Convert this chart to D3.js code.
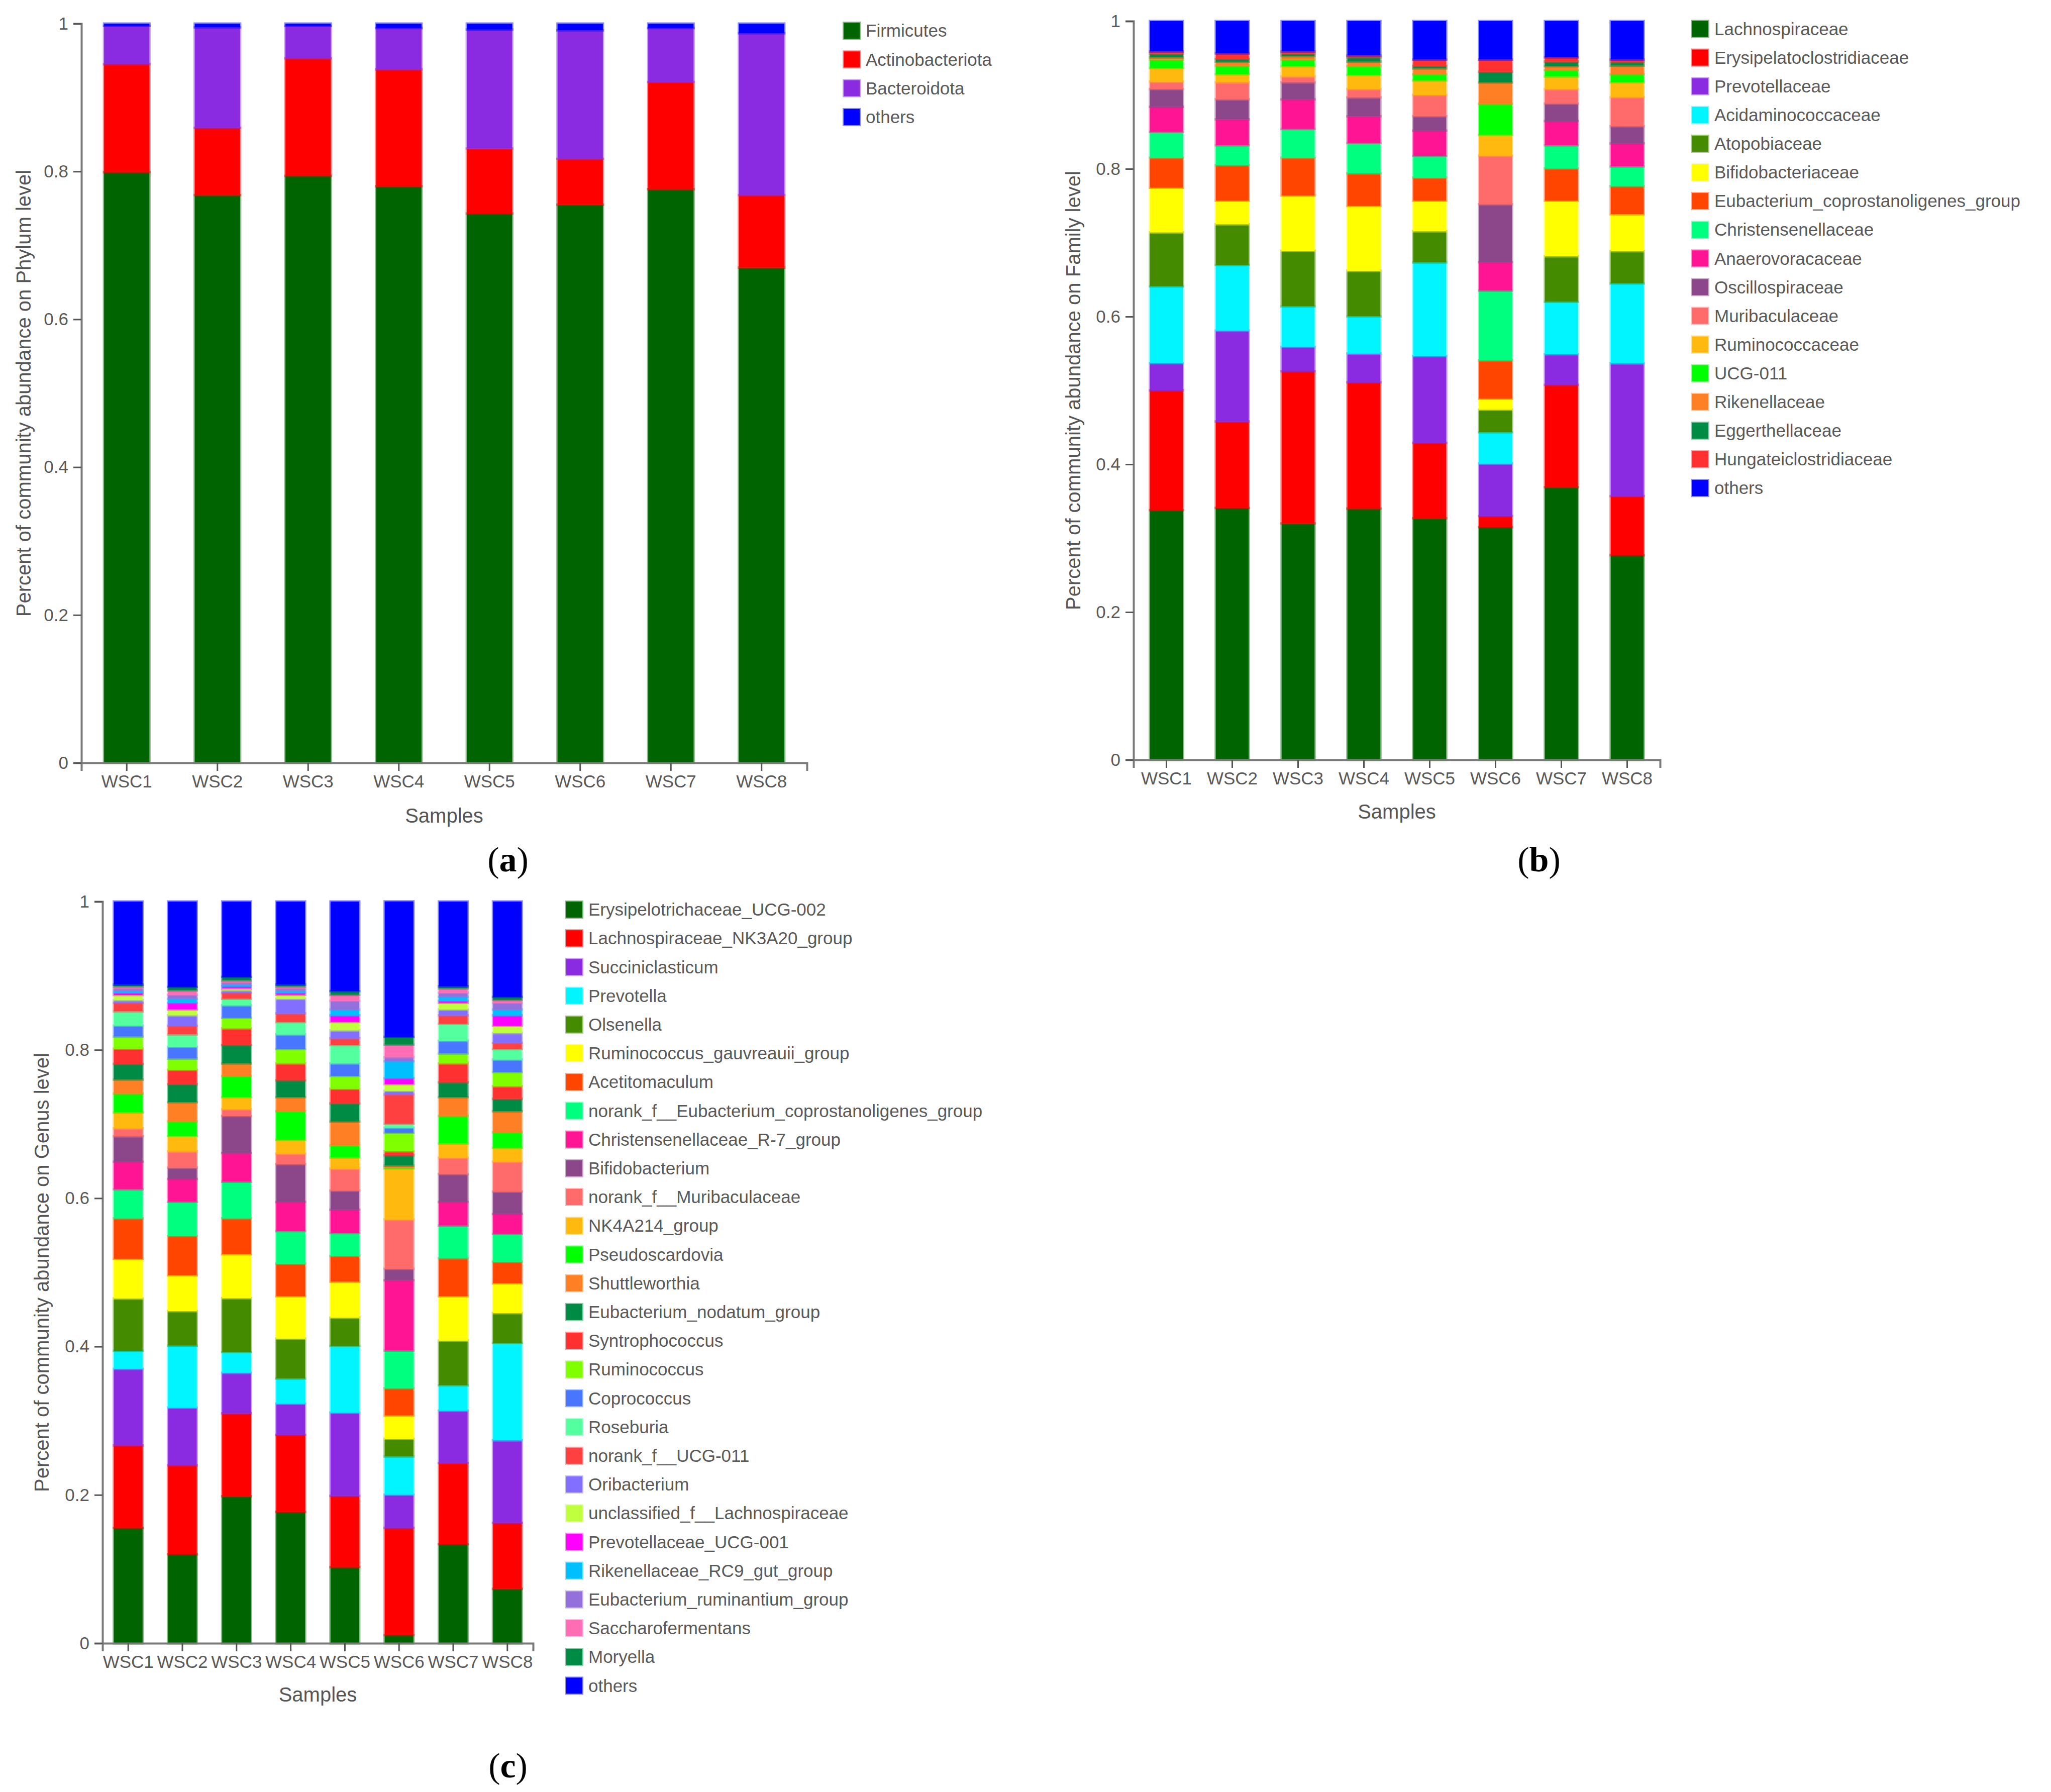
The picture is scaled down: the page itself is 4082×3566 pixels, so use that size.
<!DOCTYPE html>
<html>
<head>
<meta charset="utf-8">
<script src="https://cdn.jsdelivr.net/npm/d3@7"></script>
<style>
body{margin:0;background:#fff}
text{font-family:"Liberation Sans",Arial,sans-serif}
</style>
</head>
<body>
<script>
var samples=["WSC1","WSC2","WSC3","WSC4","WSC5","WSC6","WSC7","WSC8"]
var yTicks=[0,0.2,0.4,0.6,0.8,1]

// (a) phylum level
var phylumNames=["Firmicutes","Actinobacteriota","Bacteroidota","others"]
var firmicutes=[0.799,0.768,0.794,0.780,0.743,0.755,0.776,0.670]
var actinobacteriota=[0.146,0.091,0.159,0.158,0.088,0.062,0.145,0.098]
var bacteroidota=[0.052,0.136,0.044,0.056,0.161,0.174,0.073,0.219]
var phylumOthers=[0.003,0.005,0.003,0.006,0.008,0.009,0.006,0.013]
var phylumValues=[firmicutes,actinobacteriota,bacteroidota,phylumOthers]

// (b) family level
var familyNames=["Lachnospiraceae","Erysipelatoclostridiaceae","Prevotellaceae","Acidaminococcaceae","Atopobiaceae",
  "Bifidobacteriaceae","Eubacterium_coprostanoligenes_group","Christensenellaceae","Anaerovoracaceae","Oscillospiraceae",
  "Muribaculaceae","Ruminococcaceae","UCG-011","Rikenellaceae","Eggerthellaceae","Hungateiclostridiaceae","others"]
var lachnospiraceae=[0.338,0.341,0.320,0.340,0.327,0.315,0.369,0.277]
var erysipelatoclostridiaceae=[0.162,0.117,0.206,0.171,0.102,0.015,0.1385,0.080]
var prevotellaceae=[0.037,0.123,0.033,0.039,0.1175,0.071,0.0415,0.1797]
var acidaminococcaceae=[0.104,0.089,0.055,0.0505,0.1269,0.0425,0.0712,0.1083]
var atopobiaceae=[0.073,0.055,0.075,0.0615,0.0421,0.0305,0.0614,0.0435]
var bifidobacteriaceae=[0.0605,0.032,0.075,0.0878,0.0415,0.015,0.0754,0.0501]
var eubCoproFamily=[0.0405,0.048,0.051,0.0441,0.031,0.0517,0.0435,0.038]
var christensenellaceae=[0.035,0.027,0.039,0.0411,0.0296,0.0946,0.0315,0.0267]
var anaerovoracaceae=[0.034,0.035,0.040,0.036,0.034,0.0383,0.0327,0.0313]
var oscillospiraceae=[0.024,0.027,0.023,0.0256,0.0197,0.0784,0.0236,0.0231]
var muribaculaceae=[0.010,0.023,0.008,0.0114,0.0287,0.0656,0.0197,0.0393]
var ruminococcaceae=[0.0186,0.011,0.014,0.019,0.0197,0.0284,0.017,0.0202]
var ucg011=[0.0114,0.0117,0.009,0.012,0.0083,0.042,0.0086,0.0107]
var rikenellaceae=[0.003,0.0053,0.0045,0.0062,0.008,0.029,0.0054,0.0119]
var eggerthellaceae=[0.005,0.0036,0.0035,0.0058,0.0033,0.0144,0.0062,0.0045]
var hungateiclostridiaceae=[0.003,0.0077,0.003,0.0026,0.0087,0.0166,0.0058,0.0037]
var familyOthers=[0.041,0.0437,0.041,0.0464,0.052,0.052,0.049,0.052]
var familyValues=[lachnospiraceae,erysipelatoclostridiaceae,prevotellaceae,acidaminococcaceae,atopobiaceae,
  bifidobacteriaceae,eubCoproFamily,christensenellaceae,anaerovoracaceae,oscillospiraceae,muribaculaceae,
  ruminococcaceae,ucg011,rikenellaceae,eggerthellaceae,hungateiclostridiaceae,familyOthers]

// (c) genus level
var genusNames=["Erysipelotrichaceae_UCG-002","Lachnospiraceae_NK3A20_group","Succiniclasticum","Prevotella","Olsenella",
  "Ruminococcus_gauvreauii_group","Acetitomaculum","norank_f__Eubacterium_coprostanoligenes_group","Christensenellaceae_R-7_group",
  "Bifidobacterium","norank_f__Muribaculaceae","NK4A214_group","Pseudoscardovia","Shuttleworthia","Eubacterium_nodatum_group",
  "Syntrophococcus","Ruminococcus","Coprococcus","Roseburia","norank_f__UCG-011","Oribacterium","unclassified_f__Lachnospiraceae",
  "Prevotellaceae_UCG-001","Rikenellaceae_RC9_gut_group","Eubacterium_ruminantium_group","Saccharofermentans","Moryella","others"]
var erysipUCG002=[0.1555,0.120,0.1981,0.177,0.1026,0.0109,0.1335,0.0733]
var lachnoNK3A20=[0.1113,0.1199,0.1119,0.1039,0.0961,0.1446,0.1094,0.089]
var succiniclasticum=[0.1031,0.0776,0.0545,0.042,0.1121,0.0448,0.0706,0.1113]
var prevotella=[0.0244,0.0838,0.0282,0.0341,0.090,0.0516,0.0344,0.1312]
var olsenella=[0.0704,0.0465,0.0725,0.0537,0.0381,0.0236,0.0601,0.0403]
var rumGauvreauii=[0.0537,0.0483,0.0593,0.0572,0.0486,0.0317,0.0599,0.0402]
var acetitomaculum=[0.0545,0.0529,0.0484,0.0438,0.0346,0.0366,0.051,0.029]
var eubCoproGenus=[0.0392,0.0462,0.0494,0.044,0.0309,0.0508,0.0443,0.0376]
var christR7=[0.037,0.0308,0.0387,0.0392,0.0314,0.0948,0.0317,0.0269]
var bifidobacterium=[0.0344,0.0151,0.0499,0.051,0.0258,0.0153,0.0376,0.0301]
var noranMuribac=[0.0107,0.022,0.0091,0.014,0.0295,0.0666,0.022,0.0402]
var nk4a214=[0.0215,0.0209,0.0163,0.0188,0.0153,0.069,0.0193,0.0188]
var pseudoscardovia=[0.0253,0.0194,0.0284,0.0386,0.0162,0.001,0.0371,0.021]
var shuttleworthia=[0.019,0.0261,0.017,0.019,0.0322,0.0027,0.0254,0.0284]
var eubNodatum=[0.021,0.0241,0.0248,0.0225,0.0244,0.0139,0.0198,0.0167]
var syntrophococcus=[0.0206,0.0194,0.0225,0.0229,0.0197,0.0054,0.0256,0.0169]
var ruminococcus=[0.0164,0.0153,0.0142,0.0194,0.0174,0.025,0.0135,0.0191]
var coprococcus=[0.0146,0.0157,0.0168,0.0196,0.0168,0.0067,0.0169,0.0169]
var roseburia=[0.0194,0.0169,0.009,0.0168,0.0248,0.0053,0.0232,0.0142]
var noranUCG011=[0.0114,0.0115,0.0079,0.0117,0.009,0.0396,0.0113,0.0083]
var oribacterium=[0.0036,0.0142,0.0034,0.0196,0.0108,0.0049,0.0078,0.0132]
var unclLachno=[0.007,0.008,0.0027,0.0054,0.0113,0.009,0.009,0.010]
var prevUCG001=[0.003,0.0088,0.0027,0.0027,0.0089,0.0079,0.0027,0.0139]
var rikenRC9=[0.003,0.0054,0.0027,0.0034,0.0079,0.023,0.0054,0.0079]
var eubRuminantium=[0.003,0.0054,0.0027,0.0027,0.0117,0.0054,0.0054,0.009]
var saccharofermentans=[0.0027,0.0061,0.0027,0.0027,0.0081,0.017,0.0061,0.0039]
var moryella=[0.0023,0.0045,0.0045,0.0025,0.005,0.0104,0.0027,0.004]
var genusOthers=[0.112,0.1152,0.1017,0.1118,0.1208,0.1827,0.1143,0.1287]
var genusValues=[erysipUCG002,lachnoNK3A20,succiniclasticum,prevotella,olsenella,rumGauvreauii,acetitomaculum,
  eubCoproGenus,christR7,bifidobacterium,noranMuribac,nk4a214,pseudoscardovia,shuttleworthia,eubNodatum,
  syntrophococcus,ruminococcus,coprococcus,roseburia,noranUCG011,oribacterium,unclLachno,prevUCG001,rikenRC9,
  eubRuminantium,saccharofermentans,moryella,genusOthers]

// colours
var phylumColors=["#006400","#FF0000","#8A2BE2","#0000FF"]
var familyColors=["#006400","#FF0000","#8A2BE2","#00F5FF","#458B00","#FFFF00","#FF4500","#00FF7F","#FF1493",
  "#8B4789","#FF6A6A","#FFB90F","#00FF00","#FF7F24","#008B45","#FF3030","#0000FF"]
var genusColors=["#006400","#FF0000","#8A2BE2","#00F5FF","#458B00","#FFFF00","#FF4500","#00FF7F","#FF1493",
  "#8B4789","#FF6A6A","#FFB90F","#00FF00","#FF7F24","#008B45","#FF3030","#7FFF00","#4876FF","#54FF9F","#FF4040",
  "#836FFF","#C0FF3E","#FF00FF","#00BFFF","#9370DB","#FF6EB4","#008B45","#0000FF"]

var svg=d3.select("body").append("svg").attr("width",4082).attr("height",3566)
svg.append("rect").attr("width",4082).attr("height",3566).attr("fill","#fff")

var drawPanel=function(p){
  var rows=samples.map(function(s,i){
    var r={sample:s}
    p.names.forEach(function(n,k){r[n]=p.values[k][i]})
    return r
  })
  var stacked=d3.stack().keys(p.names)(rows)
  var xScale=d3.scaleBand().domain(samples).range([p.left,p.right]).paddingInner(p.padIn).paddingOuter(p.padOut)
  var yScale=d3.scaleLinear().domain([0,1]).range([p.bottom,p.top])
  var color=d3.scaleOrdinal().domain(p.names).range(p.colors)
  var g=svg.append("g")
  g.selectAll("g.layer")
   .data(stacked)
   .enter()
   .append("g")
   .attr("class","layer")
   .attr("fill",function(d){return color(d.key)})
   .attr("stroke",function(d){return color(d.key)})
   .selectAll("rect")
   .data(function(d){return d})
   .enter()
   .append("rect")
   .attr("x",function(d){return xScale(d.data.sample)})
   .attr("y",function(d){return yScale(d[1])})
   .attr("width",xScale.bandwidth())
   .attr("height",function(d){return Math.max(0,yScale(d[0])-yScale(d[1]))})
   .attr("stroke-width",5)
   .attr("stroke-opacity",0.45)
  var xAxis=d3.axisBottom(xScale).tickSize(16).tickPadding(8)
  var gx=g.append("g").attr("transform","translate(0,"+p.bottom+")").call(xAxis)
  var yAxis=d3.axisLeft(yScale).tickValues(yTicks).tickSize(16).tickPadding(10)
     .tickFormat(function(d){return String(+d.toFixed(1))})
  var gy=g.append("g").attr("transform","translate("+p.left+",0)").call(yAxis)
  ;[gx,gy].forEach(function(ax){
    ax.select(".domain").attr("stroke","#7a7a7a").attr("stroke-width",4)
    ax.selectAll(".tick line").attr("stroke","#555").attr("stroke-width",3)
    ax.selectAll(".tick text").attr("fill","#595959").style("font-size","35px")
      .style("font-family","'Liberation Sans',Arial,sans-serif")
  })
  g.append("text")
   .attr("transform","translate("+p.yTitleX+","+((p.top+p.bottom)/2)+") rotate(-90)")
   .attr("text-anchor","middle").attr("dy","0.35em")
   .attr("fill","#555").style("font-size","40px")
   .text(p.yTitle)
  g.append("text")
   .attr("x",(p.left+p.right)/2).attr("y",p.samplesY)
   .attr("text-anchor","middle").attr("dy","0.35em")
   .attr("fill","#555").style("font-size","40px")
   .text("Samples")
  var lt=g.append("text")
   .attr("x",p.letterX).attr("y",p.letterY)
   .attr("text-anchor","middle").attr("dy","0.35em")
   .attr("fill","#000").style("font-size","70px")
   .style("font-family","'Liberation Serif','Times New Roman',serif")
  lt.append("tspan").text("(")
  lt.append("tspan").attr("font-weight","bold").text(p.letter)
  lt.append("tspan").text(")")
  var leg=g.append("g").selectAll("g")
   .data(p.names)
   .enter()
   .append("g")
   .attr("transform",function(d,i){return "translate("+p.legendX+","+(p.legendY+i*p.legendStep)+")"})
  leg.append("rect")
   .attr("x",0).attr("y",-16).attr("width",32).attr("height",32)
   .attr("fill",function(d){return color(d)})
   .attr("stroke",function(d){return color(d)})
   .attr("stroke-width",4).attr("stroke-opacity",0.45)
  leg.append("text")
   .attr("x",44).attr("y",0).attr("dy","0.35em")
   .attr("fill","#595959").style("font-size","35px")
   .text(function(d){return d})
}

drawPanel({names:phylumNames,values:phylumValues,colors:phylumColors,
  left:162,right:1606,top:47,bottom:1518,padIn:0.5,padOut:0.25,
  yTitle:"Percent of community abundance on Phylum level",yTitleX:47,samplesY:1623,
  letter:"a",letterX:1011,letterY:1709,legendX:1679,legendY:61,legendStep:57.3})
drawPanel({names:familyNames,values:familyValues,colors:familyColors,
  left:2256,right:3304,top:42,bottom:1512,padIn:0.5,padOut:0.25,
  yTitle:"Percent of community abundance on Family level",yTitleX:2136,samplesY:1615,
  letter:"b",letterX:3063,letterY:1709,legendX:3368,legendY:57.5,legendStep:57.1})
drawPanel({names:genusNames,values:genusValues,colors:genusColors,
  left:204,right:1061,top:1794,bottom:3270,padIn:0.47,padOut:0.21,
  yTitle:"Percent of community abundance on Genus level",yTitleX:83,samplesY:3372,
  letter:"c",letterX:1011,letterY:3512,legendX:1127,legendY:1810,legendStep:57.2})
</script>
</body>
</html>
